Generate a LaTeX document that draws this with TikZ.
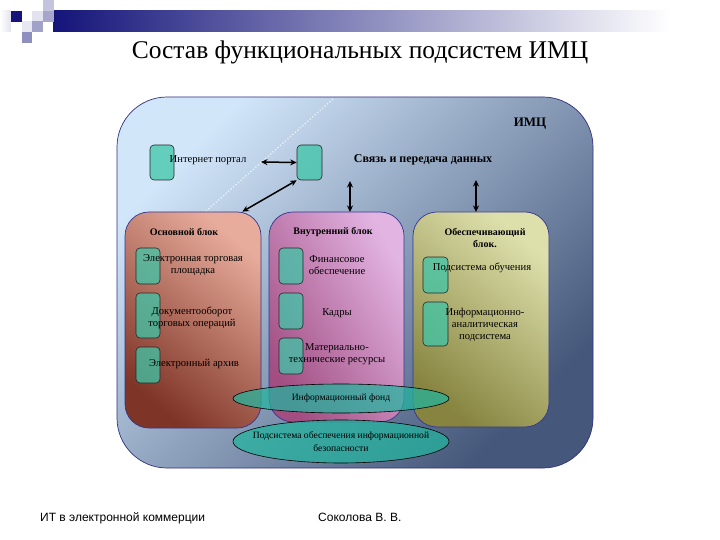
\documentclass[tikz,border=0pt]{standalone}
\usepackage{fontspec}
\setmainfont{Liberation Serif}
\newfontfamily\footfont{Liberation Sans}
\usetikzlibrary{shapes.geometric,arrows.meta,calc}
\definecolor{navy}{HTML}{14147A}
\definecolor{bordc}{HTML}{35358F}
\definecolor{bigA}{HTML}{D2E6FA}
\definecolor{bigB}{HTML}{45577A}
\definecolor{redA}{HTML}{E8AC9C}
\definecolor{redB}{HTML}{7E3426}
\definecolor{purA}{HTML}{E2B4E2}
\definecolor{purB}{HTML}{A24E82}
\definecolor{yelA}{HTML}{DEE0AC}
\definecolor{yelB}{HTML}{86843F}
\definecolor{tealc}{HTML}{3FC6A8}
\definecolor{ellc}{HTML}{22B59E}
\begin{document}
\begin{tikzpicture}[x=1pt,y=-1pt,
  blockbox/.style={draw=bordc, line width=0.7pt, rounded corners=24pt, inner sep=0pt},
  tealbox/.style={draw=black!85, line width=0.6pt, rounded corners=4pt, fill=tealc, fill opacity=0.75, minimum width=24pt, inner sep=0pt},
  lbl/.style={font=\fontsize{10.6}{12}\selectfont, align=center, inner sep=0pt},
  hdr/.style={font=\bfseries\fontsize{10}{12}\selectfont, align=center, inner sep=0pt},
  ell/.style={ellipse, draw=black, line width=0.6pt, fill=ellc, fill opacity=0.72, inner sep=0pt},
  dbl/.style={{Stealth[length=6.5pt,width=6pt]}-{Stealth[length=6.5pt,width=6pt]}, line width=1.5pt, black},
  sq/.style={inner sep=0pt, minimum size=10.7pt, draw=none}]
\useasboundingbox (0,0) rectangle (720,540);
\fill[white] (0,0) rectangle (720,540);
% top decoration
\shade[left color=navy, right color=white] (53,10.7) rectangle (670,32);
\fill[white] (670,10.7) rectangle (720,32);
\shade[left color=white, right color=navy!12] (0,10.7) rectangle (10.7,32);
\node[sq, fill=navy!25, anchor=north west] (s1) at (42.7,0) {};
\node[sq, fill=navy, anchor=north west] (s2) at (10.7,10.7) {};
\node[sq, fill=navy!12, anchor=north west] (s3) at (32,10.7) {};
\node[sq, fill=navy!38, anchor=north west] (s4) at (42.7,10.7) {};
\node[sq, fill=navy!10, anchor=north west] (s5) at (21.3,21.3) {};
\node[sq, fill=navy!40, anchor=north west] (s6) at (32,21.3) {};
\node[sq, fill=navy!48, anchor=north west] (s7) at (21.3,32) {};
% title
\node[font=\fontsize{25.5}{29}\selectfont, inner sep=0pt] (title) at (360,52) {Состав функциональных подсистем ИМЦ};
% big container
\node[blockbox, draw=bordc!90!black, rounded corners=50pt, minimum width=476pt, minimum height=371pt,
  top color=bigA, bottom color=bigB, shading angle=45] (imc) at (355,282.5) {};
\draw[white, dotted, line width=1.3pt, opacity=0.7] (333,99) -- (205,212);
\node[font=\bfseries\fontsize{13}{15}\selectfont, inner sep=0pt] (imclbl) at (530,124) {ИМЦ};
% blocks
\node[blockbox, minimum width=136pt, minimum height=216pt, top color=redA, bottom color=redB, shading angle=-40] (osn) at (193,320) {};
\node[blockbox, minimum width=135pt, minimum height=210pt, top color=purA, bottom color=purB, shading angle=-60] (vnu) at (336.5,317) {};
\node[blockbox, minimum width=136pt, minimum height=215pt, top color=yelA, bottom color=yelB, shading angle=-40] (obe) at (481,319.5) {};
% teal boxes
\node[tealbox, minimum height=35pt] (p1) at (162,162.5) {};
\node[tealbox, minimum height=35pt, minimum width=25pt] (p2) at (309.5,162.5) {};
\node[tealbox, minimum height=36pt] (o1) at (148,266) {};
\node[tealbox, minimum height=45pt] (o2) at (148,315.5) {};
\node[tealbox, minimum height=36pt] (o3) at (148,365) {};
\node[tealbox, minimum height=36pt] (v1) at (291,266) {};
\node[tealbox, minimum height=36pt] (v2) at (291,311) {};
\node[tealbox, minimum height=36pt] (v3) at (291,356) {};
\node[tealbox, minimum height=36pt, minimum width=25pt] (b1) at (435.5,275) {};
\node[tealbox, minimum height=44pt, minimum width=25pt] (b2) at (435.5,324) {};
% labels
\node[lbl] (tp1) at (208,160) {Интернет портал};
\node[hdr, font=\bfseries\fontsize{12}{14}\selectfont] (tp2) at (423,160) {Связь и передача данных};
\node[hdr] (h1) at (184,232) {Основной блок};
\node[hdr] (h2) at (333,232) {Внутренний блок};
\node[hdr] (h3) at (485,238) {Обеспечивающий\\блок.};
\node[lbl] (t1) at (193,265) {Электронная торговая\\площадка};
\node[lbl] (t2) at (192,318) {Документооборот\\торговых операций};
\node[lbl] (t3) at (194,364) {Электронный архив};
\node[lbl] (t4) at (337,265) {Финансовое\\обеспечение};
\node[lbl] (t5) at (337,313) {Кадры};
\node[lbl] (t6) at (337,354) {Материально-\\технические ресурсы};
\node[lbl] (t7) at (482,268) {Подсистема обучения};
\node[lbl] (t8) at (485,325) {Информационно-\\аналитическая\\подсистема};
% ellipses
\node[ell, minimum width=216pt, minimum height=29pt] (fond) at (341,398.5) {};
\node[lbl, font=\fontsize{9.6}{11}\selectfont] (fondt) at (fond.center) {Информационный фонд};
\node[ell, minimum width=216pt, minimum height=43pt] (bez) at (341,441.5) {};
\node[lbl, font=\fontsize{9.6}{12.5}\selectfont] (bezt) at (bez.center) {Подсистема обеспечения информационной\\безопасности};
% arrows
\coordinate (a1) at (261,162);
\coordinate (a2) at ($(osn.north east)+(-19,0)$);
\coordinate (a3) at (350,181);
\coordinate (a4) at (350,212);
\coordinate (a5) at (476,180);
\coordinate (a6) at (476,212);
\draw[dbl] (a1) -- (p2.west);
\draw[dbl] (p2.south west) -- (a2);
\draw[dbl] (a3) -- (a4);
\draw[dbl] (a5) -- (a6);
% footer
\node[font=\footfont\fontsize{12}{14}\selectfont, anchor=west, inner sep=0pt] (f1) at (40,518) {ИТ в электронной коммерции};
\node[font=\footfont\fontsize{12}{14}\selectfont, anchor=west, inner sep=0pt] (f2) at (318,517) {Соколова В. В.};
\end{tikzpicture}
\end{document}
